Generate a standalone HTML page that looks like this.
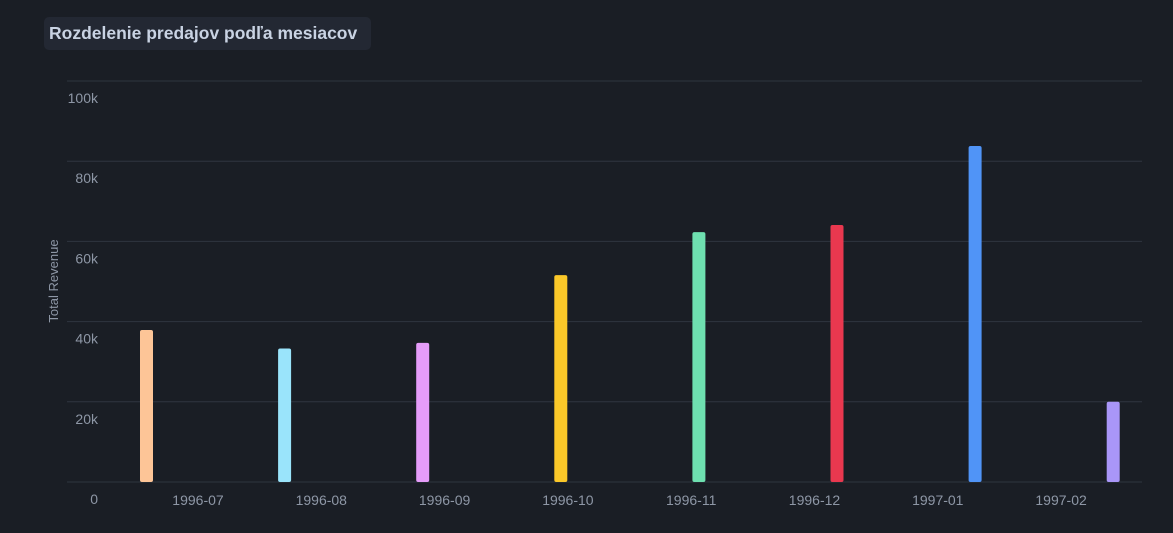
<!DOCTYPE html>
<html><head><meta charset="utf-8"><style>
html,body{margin:0;padding:0;background:#1a1e25;width:1173px;height:533px;overflow:hidden;font-family:"Liberation Sans",sans-serif}
#title{position:absolute;left:44px;top:17px;width:327px;height:33px;background:#232833;border-radius:5px;color:#c9d3e3;font-weight:bold;font-size:17.5px;line-height:33px;padding-left:5px;box-sizing:border-box;white-space:nowrap}
svg{position:absolute;left:0;top:0}
</style></head><body>
<div id="title">Rozdelenie predajov podľa mesiacov</div>
<svg id="chart" width="1173" height="533"></svg>
<script>
const categories=["1996-07","1996-08","1996-09","1996-10","1996-11","1996-12","1997-01","1997-02"];
const revenue=[37900,33300,34700,51600,62300,64100,83800,20000];
const colors=["#fdc597","#9ae4fb","#e59cf9","#fbc829","#6ee0b0","#e9384f","#5094f7","#a996f8"];
const yTicks=[0,20000,40000,60000,80000,100000];
const yTickLabels=["0","20k","40k","60k","80k","100k"];
const NS="http://www.w3.org/2000/svg";
const svg=document.getElementById('chart');
const y=v=>482-v/100000*401;
const xBar=i=>146.5+i*138.1;
const xLab=i=>198+i*123.3;
function mk(t,a){const e=document.createElementNS(NS,t);for(const k in a)e.setAttribute(k,a[k]);svg.appendChild(e);return e;}
yTicks.forEach((v,i)=>{
  const l=mk('line',{x1:67,x2:1142,y1:y(v),y2:y(v),stroke:'#2f3540','stroke-width':1});
  
  
  const t=mk('text',{x:98,y:y(v)+22,fill:'#8e97a6','font-size':14,'text-anchor':'end','font-family':'Liberation Sans, sans-serif'});
  t.textContent=yTickLabels[i];
  
  
});
revenue.forEach((v,i)=>{
  const r=mk('rect',{x:xBar(i)-6.5,y:y(v),width:13,height:482-y(v),rx:2,fill:colors[i]});
  
  
});
categories.forEach((c,i)=>{
  const t=mk('text',{x:xLab(i),y:505,fill:'#8e97a6','font-size':14,'text-anchor':'middle','font-family':'Liberation Sans, sans-serif'});
  t.textContent=c;
  
  
});
const yt=mk('text',{x:0,y:0,fill:'#8e97a6','font-size':13,'text-anchor':'middle',transform:'translate(58,281) rotate(-90)','font-family':'Liberation Sans, sans-serif'});
yt.textContent='Total Revenue';


</script>
</body></html>
